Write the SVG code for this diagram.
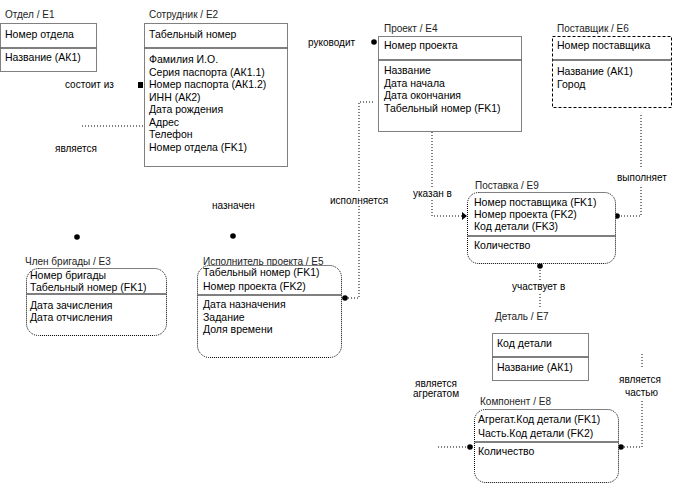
<svg xmlns="http://www.w3.org/2000/svg" width="682" height="492" viewBox="0 0 682 492">
<style>
text{font-family:"Liberation Sans",Arial,sans-serif;font-size:10.5px;fill:#000}
.t{font-size:10px;fill:#222}
.lb{font-size:10px}
.box{fill:#fff;stroke:#000;stroke-width:1;stroke-dasharray:1 1}
.dsh{stroke-dasharray:3 2}
.div{stroke:#555;stroke-width:1.6}
.con{fill:none;stroke:#000;stroke-width:1;stroke-dasharray:1 2}
.dot{fill:#000}
</style>
<rect width="682" height="492" fill="#fff"/>

<g id="connectors">
  <line class="con" x1="82" y1="126" x2="143" y2="126"/>
  <path class="con" d="M373,102 H359 V193 M359,206 V298 H347"/>
  <path class="con" d="M432,132 V188 M432,200 V216 H463"/>
  <path class="con" d="M641,115 V169 M641,187 V216 H619"/>
  <path class="con" d="M540,270 V281 M540,294 V309"/>
  <path class="con" d="M438,447 H467"/>
  <path class="con" d="M624,447 H642 V400 M642,367 V353"/>
  <rect class="dot" x="138" y="82" width="5" height="6"/>
  <circle class="dot" cx="374" cy="42" r="2.8"/>
  <circle class="dot" cx="77" cy="237" r="2.8"/>
  <circle class="dot" cx="233" cy="236" r="2.8"/>
  <circle class="dot" cx="345" cy="298" r="2.8"/>
  <path class="dot" d="M462,212 L467,216 L462,220 Z"/>
  <circle class="dot" cx="617" cy="216" r="2.8"/>
  <circle class="dot" cx="540" cy="266" r="2.8"/>
  <circle class="dot" cx="470" cy="447" r="2.8"/>
  <circle class="dot" cx="621" cy="447" r="2.8"/>
</g>

<g id="labels">
  <text class="lb" x="65" y="88">состоит из</text>
  <text class="lb" x="55" y="152">является</text>
  <text class="lb" x="308" y="46">руководит</text>
  <text class="lb" x="212" y="209">назначен</text>
  <text class="lb" x="330" y="204">исполняется</text>
  <text class="lb" x="413" y="197">указан в</text>
  <text class="lb" x="617" y="181">выполняет</text>
  <text class="lb" x="512" y="290">участвует в</text>
  <text class="lb" x="415" y="387">является</text>
  <text class="lb" x="413" y="397">агрегатом</text>
  <text class="lb" x="619" y="383">является</text>
  <text class="lb" x="625" y="396">частью</text>
</g>

<g id="E1">
  <text class="t" x="5" y="18">Отдел / E1</text>
  <rect class="box" x="0.5" y="23.5" width="96" height="48"/>
  <line class="div" x1="0.5" y1="48" x2="96.5" y2="48"/>
  <text x="5" y="38">Номер отдела</text>
  <text x="5" y="61">Название (АК1)</text>
</g>

<g id="E2">
  <text class="t" x="149" y="18">Сотрудник / E2</text>
  <rect class="box" x="144.5" y="23.5" width="143" height="143"/>
  <line class="div" x1="144.5" y1="48" x2="287.5" y2="48"/>
  <text x="149" y="38">Табельный номер</text>
  <text x="149" y="63">Фамилия И.О.</text>
  <text x="149" y="75.5">Серия паспорта (АК1.1)</text>
  <text x="149" y="88">Номер паспорта (АК1.2)</text>
  <text x="149" y="100.5">ИНН (АК2)</text>
  <text x="149" y="113">Дата рождения</text>
  <text x="149" y="125.5">Адрес</text>
  <text x="149" y="138">Телефон</text>
  <text x="149" y="150.5">Номер отдела (FK1)</text>
</g>

<g id="E4">
  <text class="t" x="384" y="32">Проект / E4</text>
  <rect class="box" x="378.5" y="36.5" width="143" height="95"/>
  <line class="div" x1="378.5" y1="60" x2="521.5" y2="60"/>
  <text x="384" y="49">Номер проекта</text>
  <text x="384" y="74">Название</text>
  <text x="384" y="86.5">Дата начала</text>
  <text x="384" y="99">Дата окончания</text>
  <text x="384" y="111.5">Табельный номер (FK1)</text>
</g>

<g id="E6">
  <text class="t" x="557" y="32">Поставщик / E6</text>
  <rect class="box dsh" x="552.5" y="36.5" width="119" height="71"/>
  <line class="div" x1="552.5" y1="60" x2="671.5" y2="60"/>
  <text x="557" y="49">Номер поставщика</text>
  <text x="557" y="75">Название (АК1)</text>
  <text x="557" y="87.5">Город</text>
</g>

<g id="E9">
  <text class="t" x="475" y="189">Поставка / E9</text>
  <rect class="box" x="467.5" y="192.5" width="148" height="71" rx="11"/>
  <line class="div" x1="467.5" y1="236" x2="615.5" y2="236"/>
  <text x="474" y="205.5">Номер поставщика (FK1)</text>
  <text x="474" y="217.5">Номер проекта (FK2)</text>
  <text x="474" y="229.5">Код детали (FK3)</text>
  <text x="474" y="249">Количество</text>
</g>

<g id="E7">
  <text class="t" x="495" y="320">Деталь / E7</text>
  <rect class="box" x="492.5" y="333.5" width="96" height="47"/>
  <line class="div" x1="492.5" y1="357" x2="588.5" y2="357"/>
  <text x="497" y="347">Код детали</text>
  <text x="497" y="371">Название (АК1)</text>
</g>

<g id="E8">
  <text class="t" x="480" y="405">Компонент / E8</text>
  <rect class="box" x="474.5" y="409.5" width="144" height="73" rx="11"/>
  <line class="div" x1="474.5" y1="442" x2="618.5" y2="442"/>
  <text x="478" y="423">Агрегат.Код детали (FK1)</text>
  <text x="478" y="436.5">Часть.Код детали (FK2)</text>
  <text x="478" y="454.5">Количество</text>
</g>

<g id="E3">
  <text class="t" x="25" y="265">Член бригады / E3</text>
  <rect class="box" x="26.5" y="268.5" width="140" height="67" rx="12"/>
  <line class="div" x1="26.5" y1="294" x2="166.5" y2="294"/>
  <text x="30" y="279">Номер бригады</text>
  <text x="30" y="291">Табельный номер (FK1)</text>
  <text x="30" y="309">Дата зачисления</text>
  <text x="30" y="321">Дата отчисления</text>
</g>

<g id="E5">
  <text class="t" x="203" y="265">Исполнитель проекта / E5</text>
  <rect class="box" x="197.5" y="265.5" width="144" height="92" rx="12"/>
  <line class="div" x1="197.5" y1="295" x2="341.5" y2="295"/>
  <text x="203" y="275.5">Табельный номер (FK1)</text>
  <text x="203" y="290">Номер проекта (FK2)</text>
  <text x="203" y="308">Дата назначения</text>
  <text x="203" y="320.5">Задание</text>
  <text x="203" y="333">Доля времени</text>
</g>
</svg>
